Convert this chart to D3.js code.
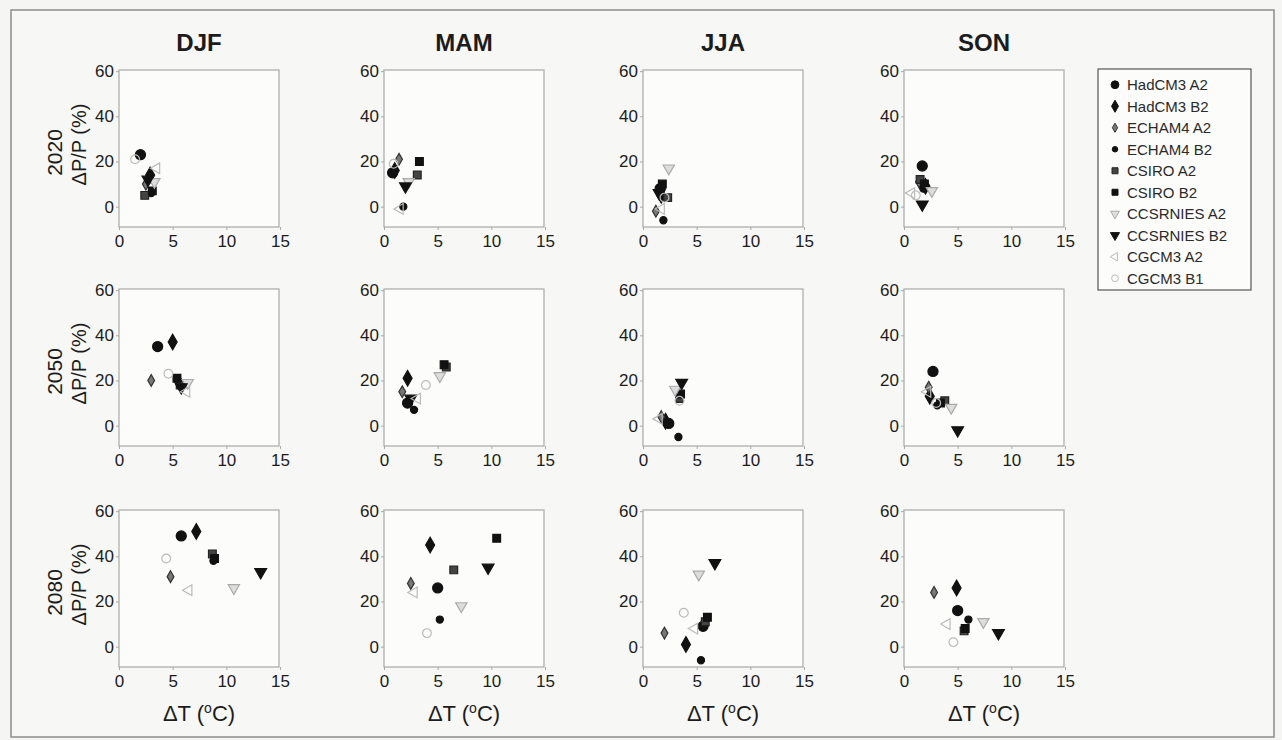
<!DOCTYPE html>
<html>
<head>
<meta charset="utf-8">
<script src="https://cdn.jsdelivr.net/npm/d3@7"></script>
<style>
  body { margin: 0; background: #f5f5f3; }
  svg { display: block; font-family: "Liberation Sans", Arial, sans-serif; }
</style>
</head>
<body>
<div id="chart"></div>
<script>
// seasons, periods, models
var seasons = ["DJF", "MAM", "JJA", "SON"];
var periods = ["2020", "2050", "2080"];
var models = ["HadCM3 A2", "HadCM3 B2", "ECHAM4 A2", "ECHAM4 B2", "CSIRO A2",
  "CSIRO B2", "CCSRNIES A2", "CCSRNIES B2", "CGCM3 A2", "CGCM3 B1"];
var xTicks = [0, 5, 10, 15];
var yTicks = [0, 20, 40, 60];

// dT (degC) per season, one value per model
var dT2020 = [
  [2.0, 2.9, 2.5, 3.0, 2.4, 3.1, 3.3, 2.7, 3.5, 1.5],
  [0.8, 1.0, 1.4, 1.8, 3.1, 3.3, 2.3, 2.0, 1.5, 0.9],
  [1.6, 1.7, 1.2, 1.9, 2.3, 1.8, 2.4, 1.5, 1.7, 2.0],
  [1.7, 2.0, 1.4, 1.8, 1.5, 1.9, 2.6, 1.7, 0.7, 1.1]
];
// dP/P (%) per season
var dP2020 = [
  [23, 14, 10, 6, 5, 7, 11, 12, 17, 21],
  [15, 16, 21, 0, 14, 20, 11, 9, -1, 19],
  [8, 5, -2, -6, 4, 10, 17, 6, -1, 4],
  [18, 9, 11, 8, 12, 10, 7, 1, 6, 5]
];
var dT2050 = [
  [3.6, 5.0, 3.0, 5.5, 5.7, 5.4, 6.4, 5.8, 6.3, 4.6],
  [2.2, 2.2, 1.7, 2.8, 5.8, 5.6, 5.2, 2.5, 3.1, 3.9],
  [2.4, 2.1, 1.7, 3.3, 3.4, 3.5, 3.0, 3.6, 1.5, 3.4],
  [2.7, 2.4, 2.3, 3.1, 3.8, 3.4, 4.4, 5.0, 2.2, 3.0]
];
var dP2050 = [
  [35, 37, 20, 20, 18, 21, 19, 17, 15, 23],
  [10, 21, 15, 7, 26, 27, 22, 12, 12, 18],
  [1, 2, 4, -5, 12, 14, 16, 19, 3, 11],
  [24, 13, 17, 9, 11, 10, 8, -2, 15, 10]
];
var dT2080 = [
  [5.8, 7.2, 4.8, 8.8, 8.7, 8.9, 10.7, 13.2, 6.5, 4.4],
  [5.0, 4.3, 2.5, 5.2, 6.5, 10.5, 7.2, 9.7, 2.8, 4.0],
  [5.6, 4.0, 2.0, 5.4, 5.8, 6.0, 5.2, 6.7, 4.8, 3.8],
  [5.0, 4.9, 2.8, 6.0, 5.6, 5.7, 7.4, 8.8, 4.0, 4.6]
];
var dP2080 = [
  [49, 51, 31, 38, 41, 39, 26, 33, 25, 39],
  [26, 45, 28, 12, 34, 48, 18, 35, 24, 6],
  [9, 1, 6, -6, 11, 13, 32, 37, 8, 15],
  [16, 26, 24, 12, 7, 8, 11, 6, 10, 2]
];
var dTAll = [dT2020, dT2050, dT2080];
var dPAll = [dP2020, dP2050, dP2080];

// marker styles, one per model
var markers = [
  { type: d3.symbolCircle, size: 80, fill: "#111", stroke: "#111", rot: 0 },
  { type: d3.symbolDiamond, size: 70, fill: "#111", stroke: "#111", rot: 0 },
  { type: d3.symbolDiamond, size: 40, fill: "#777", stroke: "#333", rot: 0 },
  { type: d3.symbolCircle, size: 40, fill: "#111", stroke: "#111", rot: 0 },
  { type: d3.symbolSquare, size: 60, fill: "#444", stroke: "#222", rot: 0 },
  { type: d3.symbolSquare, size: 60, fill: "#111", stroke: "#111", rot: 0 },
  { type: d3.symbolTriangle, size: 55, fill: "#ddd", stroke: "#aaa", rot: 180 },
  { type: d3.symbolTriangle, size: 60, fill: "#111", stroke: "#111", rot: 180 },
  { type: d3.symbolTriangle, size: 50, fill: "none", stroke: "#bbb", rot: 270 },
  { type: d3.symbolCircle, size: 60, fill: "none", stroke: "#bbb", rot: 0 }
];

var svgWidth = 1282, svgHeight = 740;
var colX = [119, 384, 643, 904];
var rowY = [70, 289, 510];
var boxW = 160, boxH = 157;
var textColor = "#1c1c1c";

var svg = d3.select("#chart")
  .append("svg")
  .attr("width", svgWidth)
  .attr("height", svgHeight);

// outer frame
svg.append("rect")
  .attr("x", 11).attr("y", 10)
  .attr("width", 1263).attr("height", 727)
  .attr("fill", "#f7f7f5")
  .attr("stroke", "#8c8c8c")
  .attr("stroke-width", 1.5);

periods.forEach(function(period, r) {
  seasons.forEach(function(season, c) {
    var x0 = colX[c], y0 = rowY[r];

    var xScale = d3.scaleLinear().domain([0, 15]).range([x0, x0 + boxW + 1]);
    var yScale = d3.scaleLinear().domain([-9, 60.5]).range([y0 + boxH, y0]);

    var g = svg.append("g");

    // panel box
    g.append("rect")
      .attr("x", x0).attr("y", y0)
      .attr("width", boxW).attr("height", boxH)
      .attr("fill", "#fcfcfb")
      .attr("stroke", "#a8a8a8")
      .attr("stroke-width", 1.2);

    // axes
    var xAxis = d3.axisBottom(xScale).tickValues(xTicks).tickSize(3).tickPadding(5);
    var yAxis = d3.axisLeft(yScale).tickValues(yTicks).tickSize(3).tickPadding(2);

    var gx = g.append("g")
      .attr("transform", "translate(0," + (y0 + boxH) + ")")
      .call(xAxis);
    var gy = g.append("g")
      .attr("transform", "translate(" + x0 + ",0)")
      .call(yAxis);

    [gx, gy].forEach(function(a) {
      a.select(".domain").remove();
      a.selectAll(".tick line").attr("stroke", "#aaa");
      a.selectAll(".tick text")
        .attr("fill", textColor)
        .attr("font-size", "17px")
        .attr("font-family", "Liberation Sans, Arial, sans-serif");
    });

    // points
    g.selectAll("path.pt")
      .data(models.map(function(m, i) {
        return { model: i, t: dTAll[r][c][i], p: dPAll[r][c][i] };
      }))
      .enter()
      .append("path")
      .attr("class", "pt")
      .attr("d", function(d) {
        return d3.symbol().type(markers[d.model].type).size(markers[d.model].size)();
      })
      .attr("transform", function(d) {
        return "translate(" + xScale(d.t) + "," + yScale(d.p) + ") rotate(" + markers[d.model].rot + ")";
      })
      .attr("fill", function(d) { return markers[d.model].fill; })
      .attr("stroke", function(d) { return markers[d.model].stroke; })
      .attr("stroke-width", 1.2);

    // season titles
    if (r === 0) {
      svg.append("text")
        .attr("x", x0 + boxW / 2)
        .attr("y", 51)
        .attr("text-anchor", "middle")
        .attr("font-size", "24px")
        .attr("font-weight", "bold")
        .attr("fill", textColor)
        .text(season);
    }

    // x label
    if (r === 2) {
      var xl = svg.append("text")
        .attr("x", x0 + boxW / 2)
        .attr("y", 721)
        .attr("text-anchor", "middle")
        .attr("font-size", "22px")
        .attr("fill", textColor);
      xl.append("tspan").text("\u0394T  (");
      xl.append("tspan").attr("dy", -8).attr("font-size", "14px").text("o");
      xl.append("tspan").attr("dy", 8).text("C)");
    }
  });

  // row labels
  var cy = rowY[r] + boxH / 2;
  svg.append("text")
    .attr("transform", "translate(62," + (cy + 4) + ") rotate(-90)")
    .attr("text-anchor", "middle")
    .attr("font-size", "21px")
    .attr("fill", textColor)
    .text(period);
  svg.append("text")
    .attr("transform", "translate(86," + (cy - 4) + ") rotate(-90)")
    .attr("text-anchor", "middle")
    .attr("font-size", "20px")
    .attr("fill", textColor)
    .text("\u0394P/P  (%)");
});

// legend
var legend = svg.append("g");
legend.append("rect")
  .attr("x", 1098).attr("y", 69)
  .attr("width", 153).attr("height", 221)
  .attr("fill", "#fcfcfb")
  .attr("stroke", "#555")
  .attr("stroke-width", 1.2);

var legendScale = d3.scaleBand()
  .domain(models)
  .range([74, 289]);

var items = legend.selectAll("g.item")
  .data(models)
  .enter()
  .append("g")
  .attr("class", "item")
  .attr("transform", function(d) {
    return "translate(1115," + (legendScale(d) + legendScale.bandwidth() / 2) + ")";
  });

items.append("path")
  .attr("d", function(d, i) {
    return d3.symbol().type(markers[i].type).size(markers[i].size * 0.6)();
  })
  .attr("transform", function(d, i) { return "rotate(" + markers[i].rot + ")"; })
  .attr("fill", function(d, i) { return markers[i].fill; })
  .attr("stroke", function(d, i) { return markers[i].stroke; })
  .attr("stroke-width", 1);

items.append("text")
  .attr("x", 12)
  .attr("dy", "0.35em")
  .attr("font-size", "15px")
  .attr("fill", "#2a2a2a")
  .text(function(d) { return d; });
</script>
</body>
</html>
